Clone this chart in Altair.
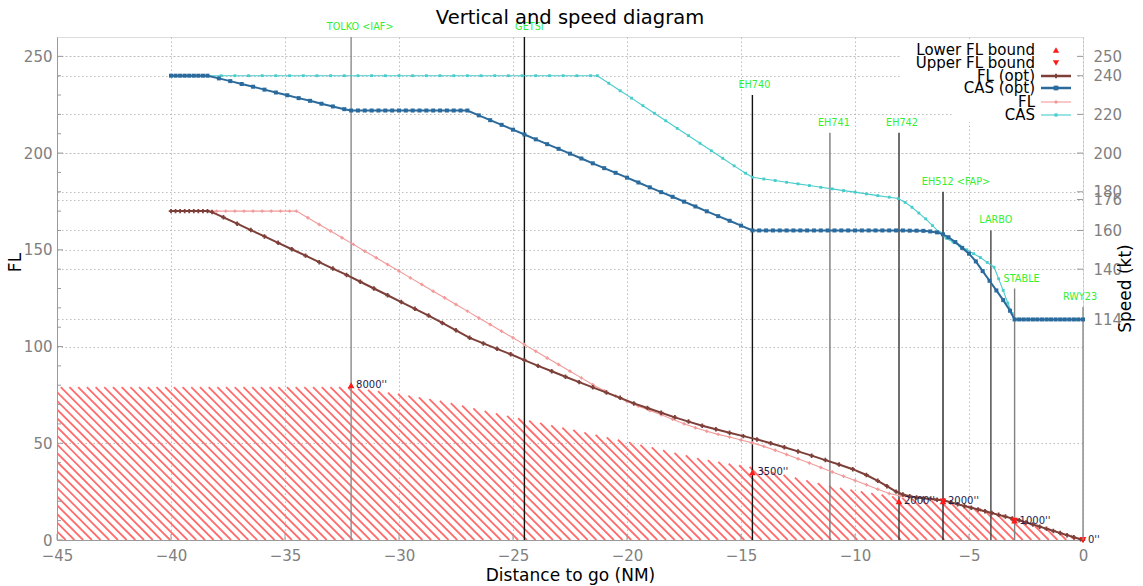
import altair as alt
import numpy as np
import pandas as pd

# ---------------- values ----------------
TITLE = "Vertical and speed diagram"
X_TITLE = "Distance to go (NM)"
YL_TITLE = "FL"
YR_TITLE = "Speed (kt)"

X_TICKS = [-45, -40, -35, -30, -25, -20, -15, -10, -5, 0]
FL_TICKS = [0, 50, 100, 150, 200, 250]
FL_MINOR = [10, 20, 30, 40, 60, 70, 80, 90, 110, 120, 130, 140, 160, 170, 180, 190, 210, 220, 230, 240]
SPEED_TICKS = [114, 140, 160, 176, 180, 200, 220, 240, 250]

# FL (opt): (distance to go NM, FL)
FL_OPT = [
    (-40.0, 170), (-39.8, 170), (-39.6, 170), (-39.4, 170), (-39.2, 170), (-39.0, 170),
    (-38.8, 170), (-38.6, 170), (-38.4, 170), (-38.2, 169.5), (-37.7, 166.8), (-37.1, 163.5),
    (-36.5, 160.2), (-35.9, 156.9), (-35.3, 153.6), (-34.7, 150.3), (-34.1, 147.0), (-33.5, 143.6),
    (-32.9, 140.3), (-32.3, 137.0), (-31.7, 133.5), (-31.1, 130.0), (-30.5, 126.5), (-29.9, 123.0),
    (-29.3, 119.5), (-28.7, 116.0), (-28.1, 112.2), (-27.5, 108.4), (-26.9, 104.5), (-26.3, 101.6),
    (-25.7, 98.8), (-25.1, 96.0), (-24.5, 93.0), (-23.9, 90.0), (-23.3, 87.2), (-22.7, 84.4),
    (-22.1, 81.6), (-21.5, 78.9), (-20.9, 76.2), (-20.3, 73.5), (-19.7, 70.6), (-19.1, 68.2),
    (-18.5, 65.8), (-17.9, 63.4), (-17.3, 61.2), (-16.7, 59.1), (-16.1, 57.2), (-15.5, 55.4),
    (-14.9, 53.7), (-14.3, 52.0), (-13.7, 50.0), (-13.1, 47.9), (-12.5, 45.8), (-11.9, 43.6),
    (-11.3, 41.3), (-10.7, 39.0), (-10.1, 36.6), (-9.5, 33.6), (-9.0, 30.6), (-8.6, 27.8),
    (-8.2, 25.0), (-7.9, 23.5), (-7.6, 22.6), (-7.3, 22.0), (-7.0, 21.6), (-6.7, 21.2),
    (-6.4, 20.8), (-6.1, 20.4), (-5.8, 19.5), (-5.5, 18.5), (-5.2, 17.6), (-4.9, 16.7),
    (-4.6, 15.8), (-4.3, 14.9), (-4.0, 14.0), (-3.7, 13.0), (-3.4, 12.1), (-3.1, 11.1),
    (-2.8, 10.2), (-2.5, 9.1), (-2.2, 8.0), (-1.9, 6.9), (-1.6, 5.8), (-1.3, 4.7),
    (-1.0, 3.6), (-0.7, 2.5), (-0.4, 1.4), (-0.1, 0.4), (0.0, 0.0),
]

# FL (planned)
FL_PLAN = [
    (-40.0, 170), (-39.6, 170), (-39.2, 170), (-38.8, 170), (-38.4, 170), (-38.0, 170),
    (-37.6, 170), (-37.2, 170), (-36.8, 170), (-36.4, 170), (-36.0, 170), (-35.6, 170),
    (-35.2, 170), (-34.8, 170), (-34.5, 170), (-34.0, 166.6), (-33.5, 163.1), (-33.0, 159.7),
    (-32.5, 156.2), (-32.0, 152.8), (-31.5, 149.3), (-31.0, 145.9), (-30.5, 142.4), (-30.0, 139.0),
    (-29.5, 135.5), (-29.0, 132.1), (-28.5, 128.6), (-28.0, 125.2), (-27.5, 121.7), (-27.0, 118.3),
    (-26.5, 114.8), (-26.0, 111.4), (-25.5, 107.9), (-25.0, 104.5), (-24.5, 101.0), (-24.0, 97.6),
    (-23.5, 94.1), (-23.0, 90.7), (-22.5, 87.2), (-22.0, 83.8), (-21.5, 80.3), (-21.0, 77.2),
    (-20.5, 74.4), (-20.0, 71.6), (-19.5, 69.2), (-19.0, 66.9), (-18.5, 64.7), (-18.0, 62.4),
    (-17.5, 60.1), (-17.0, 58.0), (-16.5, 56.2), (-16.0, 54.6), (-15.5, 53.2), (-15.0, 51.7),
    (-14.5, 50.2), (-14.0, 48.4), (-13.5, 46.4), (-13.0, 44.2), (-12.5, 42.0), (-12.0, 39.8),
    (-11.5, 37.5), (-11.0, 35.2), (-10.5, 33.0), (-10.0, 30.8), (-9.5, 28.6), (-9.0, 26.2),
    (-8.5, 24.0), (-8.0, 22.8), (-7.5, 22.1), (-7.0, 21.5), (-6.5, 20.9), (-6.1, 20.4),
    (-5.5, 18.5), (-5.0, 17.0), (-4.5, 15.5), (-4.0, 14.0), (-3.5, 12.4), (-3.0, 10.8),
    (-2.5, 9.1), (-2.0, 7.3), (-1.5, 5.5), (-1.0, 3.6), (-0.5, 1.8), (0.0, 0.0),
]

# CAS (opt): (distance, kt)
CAS_OPT = [
    (-40.0, 240), (-39.8, 240), (-39.6, 240), (-39.4, 240), (-39.2, 240), (-39.0, 240),
    (-38.8, 240), (-38.6, 240), (-38.4, 240), (-37.9, 238.6), (-37.4, 237.2), (-36.9, 235.7),
    (-36.4, 234.3), (-35.9, 232.8), (-35.4, 231.3), (-34.9, 229.9), (-34.4, 228.4), (-33.9, 227.0),
    (-33.4, 225.5), (-32.9, 224.1), (-32.4, 222.7), (-32.1, 222), (-31.8, 222), (-31.5, 222),
    (-31.2, 222), (-30.9, 222), (-30.6, 222), (-30.3, 222), (-30.0, 222), (-29.7, 222),
    (-29.4, 222), (-29.1, 222), (-28.8, 222), (-28.5, 222), (-28.2, 222), (-27.9, 222),
    (-27.6, 222), (-27.3, 222), (-27.0, 222), (-26.5, 219.5), (-26.0, 217.0), (-25.5, 214.6),
    (-25.0, 212.1), (-24.5, 209.6), (-24.0, 207.1), (-23.5, 204.6), (-23.0, 202.2), (-22.5, 199.7),
    (-22.0, 197.2), (-21.5, 194.7), (-21.0, 192.2), (-20.5, 189.8), (-20.0, 187.3), (-19.5, 184.8),
    (-19.0, 182.3), (-18.5, 179.8), (-18.0, 177.4), (-17.5, 174.9), (-17.0, 172.4), (-16.5, 169.9),
    (-16.0, 167.4), (-15.5, 165.0), (-15.0, 162.5), (-14.5, 160.0), (-14.2, 160), (-13.9, 160),
    (-13.6, 160), (-13.3, 160), (-13.0, 160), (-12.7, 160), (-12.4, 160), (-12.1, 160),
    (-11.8, 160), (-11.5, 160), (-11.2, 160), (-10.9, 160), (-10.6, 160), (-10.3, 160),
    (-10.0, 160), (-9.7, 160), (-9.4, 160), (-9.1, 160), (-8.8, 160), (-8.5, 160),
    (-8.2, 160), (-7.9, 160), (-7.6, 159.9), (-7.3, 159.9), (-7.0, 159.8), (-6.7, 159.5),
    (-6.4, 159.0), (-6.14, 158.0), (-5.9, 156.5), (-5.6, 154.0), (-5.3, 151.0), (-5.0, 148.0),
    (-4.7, 144.0), (-4.4, 139.0), (-4.1, 134.0), (-3.8, 129.0), (-3.5, 124.0), (-3.2, 118.5),
    (-3.0, 114), (-2.8, 114), (-2.6, 114), (-2.4, 114), (-2.2, 114), (-2.0, 114),
    (-1.8, 114), (-1.6, 114), (-1.4, 114), (-1.2, 114), (-1.0, 114), (-0.8, 114),
    (-0.6, 114), (-0.4, 114), (-0.2, 114), (0.0, 114),
]

# CAS (planned)
CAS_PLAN = [
    (-40.0, 240), (-39.8, 240), (-39.6, 240), (-39.4, 240), (-39.2, 240), (-39.0, 240),
    (-38.8, 240), (-38.6, 240), (-38.4, 240), (-37.8, 240), (-37.2, 240), (-36.6, 240),
    (-36.0, 240), (-35.4, 240), (-34.8, 240), (-34.2, 240), (-33.6, 240), (-33.0, 240),
    (-32.4, 240), (-31.8, 240), (-31.2, 240), (-30.6, 240), (-30.0, 240), (-29.4, 240),
    (-28.8, 240), (-28.2, 240), (-27.6, 240), (-27.0, 240), (-26.4, 240), (-25.8, 240),
    (-25.2, 240), (-24.6, 240), (-24.0, 240), (-23.4, 240), (-22.8, 240), (-22.2, 240),
    (-21.6, 240), (-21.3, 240), (-20.8, 236.1), (-20.3, 232.2), (-19.8, 228.4), (-19.3, 224.5),
    (-18.8, 220.6), (-18.3, 216.7), (-17.8, 212.8), (-17.3, 209.0), (-16.8, 205.1), (-16.3, 201.2),
    (-15.8, 197.3), (-15.3, 193.4), (-14.8, 189.6), (-14.5, 187.5), (-14.0, 186.6), (-13.5, 185.8),
    (-13.0, 184.9), (-12.5, 184.1), (-12.0, 183.2), (-11.5, 182.3), (-11.0, 181.5), (-10.5, 180.6),
    (-10.0, 179.8), (-9.5, 178.9), (-9.0, 178.0), (-8.5, 177.2), (-8.1, 176.5), (-7.8, 174.5),
    (-7.5, 172.0), (-7.2, 169.0), (-6.9, 166.0), (-6.6, 162.5), (-6.3, 159.0), (-6.0, 156.0),
    (-5.7, 154.0), (-5.4, 152.0), (-5.1, 150.0), (-4.8, 148.0), (-4.5, 146.0), (-4.2, 143.5),
    (-3.9, 141.0), (-3.7, 135.0), (-3.5, 129.0), (-3.3, 122.5), (-3.1, 117.0), (-3.0, 114),
    (-2.7, 114), (-2.4, 114), (-2.1, 114), (-1.8, 114), (-1.5, 114), (-1.2, 114),
    (-0.9, 114), (-0.6, 114), (-0.3, 114), (0.0, 114),
]

WPT_NAMES = ["TOLKO <IAF>", "GETSI", "EH740", "EH741", "EH742", "EH512 <FAP>", "LARBO", "STABLE", "RWY23"]
WPT_DIST = [-32.1, -24.5, -14.5, -11.1, -8.07, -6.14, -4.04, -3.0, 0.0]
WPT_TOP = [260, 260, 230, 210.5, 210.5, 180, 160, 130, 120.5]

LOWER_DIST = [-32.1, -14.5, -8.07, -6.14, -3.0]
LOWER_FL = [80, 35, 20, 20, 10]
UPPER_DIST = [-6.14, -3.0, 0.0]
UPPER_FL = [20, 10, 0]
ALT_LABEL_DIST = [-32.1, -14.5, -8.07, -6.14, -3.0, 0.0]
ALT_LABEL_FL = [80, 35, 20, 20, 10, 0]
ALT_LABELS = ["8000''", "3500''", "2000''", "2000''", "1000''", "0''"]

# upper edge of the hatched (terrain / minimum altitude) area
HATCH_DIST = [-45, -32.3, -30, -28, -25.6, -22, -19.7, -16.8, -14.5, -12, -10.95, -8.1, -6.1, -4, -2.9, -1.5, 0]
HATCH_FL = [79, 79, 75.5, 71.5, 65, 56, 50, 42, 37.5, 30.5, 27.5, 22, 19.5, 13.8, 10, 5, 0]

LEGEND_LABELS = ["Lower FL bound", "Upper FL bound", "FL (opt)", "CAS (opt)", "FL", "CAS"]

# ---------------- styling ----------------
FONT = "DejaVu Sans"
W, H = 1026, 503
X_DOM = [-45, 0]
Y_DOM = [0, 260]
BROWN = "#7d3f38"
BLUE = "#2a6a9c"
PINK = "#f29a9a"
CYAN = "#48cccc"
RED = "#ff1a1a"
HATCH = "#ff6b6b"
GREEN = "#33ee33"
LABEL_GREY = "#808080"
WPT_COLORS = ["#8a8a8a", "#111111", "#111111", "#7a7a7a", "#333333", "#222222", "#444444", "#808080", "#8a8a8a"]
WPT_LABEL_DX = [9, 5, 2, 4, 3, 13, 5, 7, -3]

xs = alt.Scale(domain=X_DOM, nice=False, zero=False)
ys = alt.Scale(domain=Y_DOM, nice=False, zero=False)
GRID = dict(grid=True, gridColor="#bdbdbd", gridDash=[1.5, 2.5], gridWidth=1)

x_axis = alt.Axis(title=X_TITLE, values=X_TICKS, ticks=False, labelPadding=8, labelColor=LABEL_GREY,
                  labelFontSize=15, labelFont=FONT, labelFlush=False, labelOverlap=False,
                  titleFontSize=17, titleFont=FONT, titleColor="black", titleFontWeight="normal",
                  titlePadding=4, domainColor="#9a9a9a", **GRID)
yl_axis = alt.Axis(title=YL_TITLE, orient="left", values=FL_TICKS, ticks=False, labelPadding=5,
                   labelColor=LABEL_GREY, labelFontSize=15, labelFont=FONT, labelOverlap=False,
                   titleFontSize=17, titleFont=FONT, titleColor="black", titleFontWeight="normal",
                   titleAngle=270, titleX=-42, titleY=225, titleBaseline="middle",
                   domainColor="#9a9a9a", **GRID)
yr_axis = alt.Axis(title=YR_TITLE, orient="right", values=SPEED_TICKS, ticks=False, domain=False,
                   labelPadding=10, labelColor=LABEL_GREY, labelFontSize=15, labelFont=FONT,
                   labelOverlap=False, titleFontSize=17, titleFont=FONT, titleColor="black",
                   titleFontWeight="normal", titleAngle=270, titleX=42, titleY=251,
                   titleBaseline="middle", **GRID)


def X(field="x"):
    return alt.X(f"{field}:Q", scale=xs, axis=x_axis)


def YL(field="y"):
    return alt.Y(f"{field}:Q", scale=ys, axis=yl_axis)


def YR(field="y"):
    return alt.Y(f"{field}:Q", scale=ys, axis=yr_axis)


def pairs_df(pairs):
    return pd.DataFrame(pairs, columns=["x", "y"])


# ---------------- hatch lines, clipped to the area under HATCH_* ----------------
px_nm = W / (X_DOM[1] - X_DOM[0])
px_fl = H / (Y_DOM[1] - Y_DOM[0])
k = px_nm / px_fl          # FL per NM for a 45 degree stroke
spacing = 8.7 / px_nm
hx = np.array(HATCH_DIST, dtype=float)
hy = np.array(HATCH_FL, dtype=float)
segs = []
for xb in np.arange(X_DOM[0], 0.0001, spacing):
    f = lambda xx: k * (xb - xx) - np.interp(xx, hx, hy)
    if f(X_DOM[0]) <= 0:
        xt = X_DOM[0]
    else:
        lo, hi = X_DOM[0], xb
        for _ in range(40):
            mid = 0.5 * (lo + hi)
            if f(mid) > 0:
                lo = mid
            else:
                hi = mid
        xt = hi
    segs.append({"x": xt, "y": k * (xb - xt), "x2": xb, "y2": 0.0})
hatch_df = pd.DataFrame(segs)

hatch = alt.Chart(hatch_df).mark_rule(color=HATCH, strokeWidth=1.8, clip=True).encode(
    x=X(), y=YL(), x2="x2:Q", y2="y2:Q")

wpt_df = pd.DataFrame({"name": WPT_NAMES, "x": WPT_DIST, "y": WPT_TOP, "y0": [0] * len(WPT_DIST)})
wpt_rules = alt.Chart(wpt_df).mark_rule(strokeWidth=1.4).encode(
    x=X(), y=YL(), y2="y0:Q",
    color=alt.Color("name:N", scale=alt.Scale(domain=WPT_NAMES, range=WPT_COLORS), legend=None))
wpt_labels = [
    alt.Chart(wpt_df.iloc[[i]]).mark_text(color=GREEN, fontSize=9.7, font=FONT, dy=-10, dx=WPT_LABEL_DX[i],
                                          baseline="middle", align="center").encode(
        x=X(), y=YL(), text="name:N")
    for i in range(len(WPT_NAMES))
]

pink = alt.Chart(pairs_df(FL_PLAN)).mark_line(
    color=PINK, strokeWidth=1.1,
    point=alt.OverlayMarkDef(shape="cross", size=12, color=PINK, filled=True)).encode(x=X(), y=YL())
brown = alt.Chart(pairs_df(FL_OPT)).mark_line(
    color=BROWN, strokeWidth=2,
    point=alt.OverlayMarkDef(shape="cross", size=20, color=BROWN, filled=True)).encode(x=X(), y=YL())

low_df = pd.DataFrame({"x": LOWER_DIST, "y": LOWER_FL})
up_df = pd.DataFrame({"x": UPPER_DIST, "y": UPPER_FL})
lab_df = pd.DataFrame({"x": ALT_LABEL_DIST, "y": ALT_LABEL_FL, "t": ALT_LABELS})
low_pts = alt.Chart(low_df).mark_point(shape="triangle-up", filled=True, color=RED, size=45, opacity=1).encode(
    x=X(), y=YL())
up_pts = alt.Chart(up_df).mark_point(shape="triangle-down", filled=True, color=RED, size=45, opacity=1).encode(
    x=X(), y=YL())
alt_labels = alt.Chart(lab_df).mark_text(align="left", baseline="middle", dx=5, fontSize=10, font=FONT,
                                         color="#1c1c4c").encode(x=X(), y=YL(), text="t:N")

# inward ticks
minor_df = pd.DataFrame({"y": FL_MINOR})
major_df = pd.DataFrame({"y": FL_TICKS})
spd_df = pd.DataFrame({"y": SPEED_TICKS})
xt_df = pd.DataFrame({"x": X_TICKS})
tick_l_minor = alt.Chart(minor_df).mark_rule(color="#9a9a9a").encode(
    y=YL(), x=alt.value(0), x2=alt.value(4))
tick_l_major = alt.Chart(major_df).mark_rule(color="#9a9a9a").encode(
    y=YL(), x=alt.value(0), x2=alt.value(6))
tick_r = alt.Chart(spd_df).mark_rule(color="#9a9a9a").encode(
    y=YL(), x=alt.value(W - 6), x2=alt.value(W))
tick_b = alt.Chart(xt_df).mark_rule(color="#9a9a9a").encode(
    x=X(), y=alt.value(H), y2=alt.value(H - 6))

one = pd.DataFrame({"a": [0]})
title = alt.Chart(one).mark_text(fontSize=19.5, font=FONT, color="black", baseline="middle", align="center").encode(
    x=alt.value(W / 2), y=alt.value(-19), text=alt.value(TITLE))

# manual legend (labels on the left, symbols on the right)
leg_bg = [
    alt.Chart(one).mark_rect(color="white").encode(
        x=alt.value(843), x2=alt.value(1019), y=alt.value(4), y2=alt.value(72)),
    alt.Chart(one).mark_rect(color="white").encode(
        x=alt.value(896), x2=alt.value(1019), y=alt.value(72), y2=alt.value(85)),
]
legend_layers = list(leg_bg)
row_y = [13, 26, 39, 51, 65, 78]
LX_TEXT, LX0, LX1, LXM = 978, 984, 1014, 999
line_styles = {2: (BROWN, 2.5), 3: (BLUE, 2.5), 4: (PINK, 1.1), 5: (CYAN, 1.1)}
marker_styles = {
    0: ("triangle-up", RED, 40), 1: ("triangle-down", RED, 40), 2: ("cross", BROWN, 22),
    3: ("square", BLUE, 22), 4: ("cross", PINK, 14), 5: ("square", CYAN, 10),
}
for i, lab in enumerate(LEGEND_LABELS):
    yy = row_y[i]
    legend_layers.append(alt.Chart(one).mark_text(
        fontSize=15, font=FONT, color="black", align="right", baseline="middle").encode(
        x=alt.value(LX_TEXT), y=alt.value(yy), text=alt.value(lab)))
    if i in line_styles:
        c, sw = line_styles[i]
        legend_layers.append(alt.Chart(one).mark_rule(color=c, strokeWidth=sw).encode(
            x=alt.value(LX0), x2=alt.value(LX1), y=alt.value(yy)))
    shp, c, sz = marker_styles[i]
    legend_layers.append(alt.Chart(one).mark_point(shape=shp, filled=True, color=c, size=sz, opacity=1).encode(
        x=alt.value(LXM), y=alt.value(yy)))

left = alt.layer(hatch, wpt_rules, pink, brown, low_pts, up_pts, alt_labels, *wpt_labels,
                 tick_l_minor, tick_l_major, tick_r, tick_b, title, *legend_layers)

cyan = alt.Chart(pairs_df(CAS_PLAN)).mark_line(
    color=CYAN, strokeWidth=1.1,
    point=alt.OverlayMarkDef(shape="square", size=8, color=CYAN, filled=True)).encode(x=X(), y=YR())
blue = alt.Chart(pairs_df(CAS_OPT)).mark_line(
    color=BLUE, strokeWidth=2,
    point=alt.OverlayMarkDef(shape="square", size=16, color=BLUE, filled=True)).encode(x=X(), y=YR())
right = alt.layer(cyan, blue)

chart = alt.layer(left, right).resolve_scale(y="independent").properties(
    width=W, height=H,
    padding={"left": 57, "top": 37, "right": 60, "bottom": 46},
    autosize=alt.AutoSizeParams(type="none"),
    background="white",
).configure_view(stroke="transparent").configure(font=FONT)

chart.save("out.html", embed_options={"renderer": "svg", "actions": False})
